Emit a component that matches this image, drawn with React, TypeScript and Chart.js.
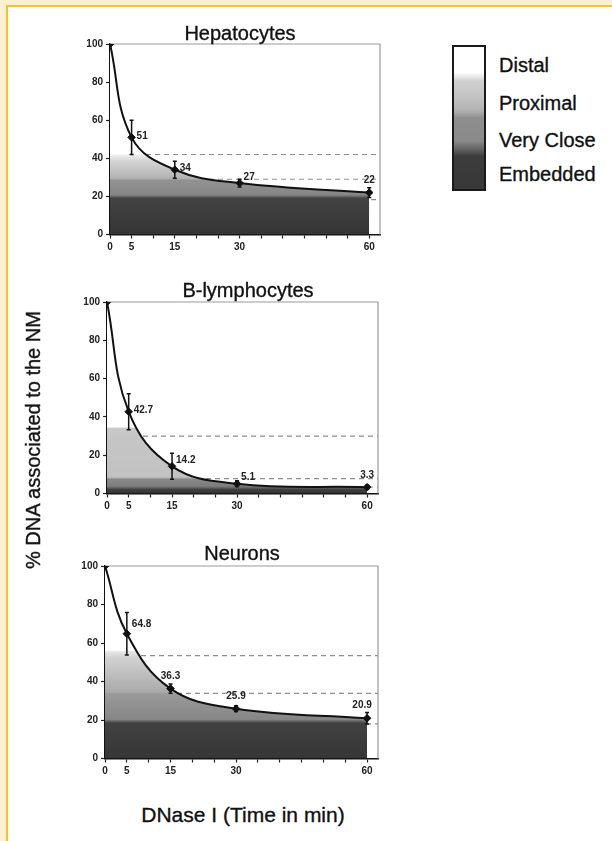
import React, { useEffect, useRef } from "react";
import { Chart, registerables } from "chart.js";

Chart.register(...registerables);

// ---------------- data ----------------
const TIMES = [0, 5, 15, 30, 60];
const X_TICK_LABELS = [0, 5, 15, 30, 60];
const X_MINOR_TICKS = [0, 5, 10, 15, 20, 25, 30, 35, 40, 45, 50, 55, 60];
const Y_MAX = 100;
const X_MAX = 62.5;

const HEP_VALUES = [100, 51, 34, 27, 22];
const HEP_ERRORS = [0, 9, 4.5, 2, 2.6];
const HEP_ZONES = [20, 29, 41.5]; // upper bounds: embedded, very close, proximal
const HEP_DASHED = [42, 29, 18.3];

const BLY_VALUES = [100, 42.7, 14.2, 5.1, 3.3];
const BLY_ERRORS = [0, 9.4, 6.8, 1.5, 1];
const BLY_ZONES = [3, 8, 34];
const BLY_DASHED = [30, 7.8, 3.4];

const NEU_VALUES = [100, 64.8, 36.3, 25.9, 20.9];
const NEU_ERRORS = [0, 11, 2.4, 1.5, 3];
const NEU_ZONES = [19.5, 34, 55.5];
const NEU_DASHED = [53.4, 33.8, 18];

const LEGEND_LABELS = ["Distal", "Proximal", "Very Close", "Embedded"];
const Y_TITLE = "% DNA associated to the NM";
const X_TITLE = "DNase I (Time in min)";

// ---------------- styles / layout ----------------
const FONT = "'Liberation Sans', Arial, Helvetica, sans-serif";
const STROKE = "0.35px #111";

type Area = { left: number; right: number; top: number; bottom: number };
interface PanelCfg {
  title: string;
  titleX: number;
  titleTop: number;
  area: Area;
  values: number[];
  errors: number[];
  zones: number[];
  dashed: number[];
  placement: string[];
  colors: string[];
}

const PANELS: PanelCfg[] = [
  {
    title: "Hepatocytes",
    titleX: 240,
    titleTop: 23,
    area: { left: 110, right: 380, top: 43.5, bottom: 234 },
    values: HEP_VALUES,
    errors: HEP_ERRORS,
    zones: HEP_ZONES,
    dashed: HEP_DASHED,
    placement: ["", "r", "r", "ur", "a"],
    colors: ["#353535", "#424242", "#868686", "#929292", "#b3b3b3", "#d4d4d4", "#ececec"],
  },
  {
    title: "B-lymphocytes",
    titleX: 248,
    titleTop: 280,
    area: { left: 107, right: 378, top: 302, bottom: 493.5 },
    values: BLY_VALUES,
    errors: BLY_ERRORS,
    zones: BLY_ZONES,
    dashed: BLY_DASHED,
    placement: ["", "r", "ur", "ur", "a"],
    colors: ["#353535", "#3d3d3d", "#7e7e7e", "#888888", "#c2c2c2", "#c6c6c6", "#cacaca"],
  },
  {
    title: "Neurons",
    titleX: 242,
    titleTop: 543,
    area: { left: 105, right: 378, top: 566, bottom: 758.5 },
    values: NEU_VALUES,
    errors: NEU_ERRORS,
    zones: NEU_ZONES,
    dashed: NEU_DASHED,
    placement: ["", "ur2", "a", "a", "al"],
    colors: ["#363636", "#424242", "#868686", "#9a9a9a", "#aaaaaa", "#d2d2d2", "#e6e6e6"],
  },
];

const PAD_T = 20;
const PAD_B = 30;
const PAD_R = 20;
const Y_AXIS_W = 40;
const X_AXIS_H = 24;

function zoneGradient(chart: any, zones: number[], colors: string[]) {
  const { ctx, chartArea, scales } = chart;
  if (!chartArea || !scales || !scales.y) return colors[0];
  const y0 = scales.y.getPixelForValue(0);
  const y1 = scales.y.getPixelForValue(Y_MAX);
  const g = ctx.createLinearGradient(0, y0, 0, y1);
  const [e, v, p] = zones;
  const stops: [number, string][] = [
    [0, colors[0]],
    [e - 1, colors[1]],
    [e + 0.8, colors[2]],
    [v - 0.6, colors[3]],
    [v + 0.6, colors[4]],
    [p - 3, colors[5]],
    [p, colors[6]],
    [p + 0.8, "#ffffff"],
    [Y_MAX, "#ffffff"],
  ];
  stops.forEach(([val, c]) => g.addColorStop(Math.min(1, Math.max(0, val / Y_MAX)), c));
  return g;
}

function Panel({ cfg }: { cfg: PanelCfg }) {
  const ref = useRef<HTMLCanvasElement>(null);
  const a = cfg.area;
  const W = Math.ceil(a.right + PAD_R);
  const canvasTop = a.top - PAD_T;
  const H = Math.ceil(a.bottom - a.top + PAD_T + PAD_B);

  useEffect(() => {
    const framePlugin = {
      id: "frame",
      beforeDatasetsDraw(chart: any) {
        const { ctx, chartArea } = chart;
        ctx.save();
        ctx.strokeStyle = "#9a9a9a";
        ctx.lineWidth = 1.2;
        ctx.beginPath();
        ctx.moveTo(chartArea.left, chartArea.top);
        ctx.lineTo(chartArea.right, chartArea.top);
        ctx.lineTo(chartArea.right, chartArea.bottom);
        ctx.stroke();
        ctx.restore();
      },
    };
    const errPlugin = {
      id: "errs",
      afterDatasetsDraw(chart: any) {
        const { ctx } = chart;
        const xs = chart.scales.x;
        const ys = chart.scales.y;
        ctx.save();
        ctx.strokeStyle = "#111";
        ctx.lineWidth = 1.5;
        TIMES.forEach((t, i) => {
          const err = cfg.errors[i];
          if (!err) return;
          const px = xs.getPixelForValue(t);
          const pt = ys.getPixelForValue(cfg.values[i] + err);
          const pb = ys.getPixelForValue(cfg.values[i] - err);
          ctx.beginPath();
          ctx.moveTo(px, pt);
          ctx.lineTo(px, pb);
          ctx.moveTo(px - 2, pt);
          ctx.lineTo(px + 2, pt);
          ctx.moveTo(px - 2, pb);
          ctx.lineTo(px + 2, pb);
          ctx.stroke();
        });
        ctx.font = `bold 10px ${FONT}`;
        ctx.fillStyle = "#222";
        ctx.textBaseline = "middle";
        TIMES.forEach((t, i) => {
          const pl = cfg.placement[i];
          if (!pl) return;
          const px = xs.getPixelForValue(t);
          const py = ys.getPixelForValue(cfg.values[i]);
          const txt = String(cfg.values[i]);
          if (pl === "r") {
            ctx.textAlign = "left";
            ctx.fillText(txt, px + 5, py - 1);
          } else if (pl === "ur") {
            ctx.textAlign = "left";
            ctx.fillText(txt, px + 4, py - 6);
          } else if (pl === "ur2") {
            ctx.textAlign = "left";
            ctx.fillText(txt, px + 5, py - 10);
          } else if (pl === "a") {
            ctx.textAlign = "center";
            ctx.fillText(txt, px, py - 12);
          } else if (pl === "al") {
            ctx.textAlign = "center";
            ctx.fillText(txt, px - 5, py - 13);
          }
        });
        ctx.restore();
      },
    };

    const chart = new Chart(ref.current as HTMLCanvasElement, {
      type: "line",
      data: {
        datasets: [
          {
            data: TIMES.map((t, i) => ({ x: t, y: cfg.values[i] })),
            borderColor: "#111",
            borderWidth: 2,
            tension: 0.4,
            fill: "origin",
            backgroundColor: (ctx: any) => zoneGradient(ctx.chart, cfg.zones, cfg.colors),
            pointStyle: "rectRot",
            pointRadius: 3.8,
            pointBackgroundColor: "#111",
            pointBorderColor: "#111",
            pointBorderWidth: 1,
            order: 0,
          } as any,
          ...cfg.dashed.map((v) => ({
            data: [
              { x: 0, y: v },
              { x: X_MAX, y: v },
            ],
            borderColor: "#8e8e8e",
            borderWidth: 1.2,
            borderDash: [5, 4],
            pointRadius: 0,
            fill: false,
            order: 1,
          })),
        ],
      },
      options: {
        animation: false,
        responsive: false,
        devicePixelRatio: 1,
        events: [],
        layout: {
          padding: {
            left: a.left - Y_AXIS_W,
            top: PAD_T,
            right: W - a.right,
            bottom: H - PAD_T - (a.bottom - a.top) - X_AXIS_H,
          },
        },
        plugins: {
          legend: { display: false },
          title: { display: false },
          tooltip: { enabled: false },
        },
        scales: {
          x: {
            type: "linear",
            min: 0,
            max: X_MAX,
            afterBuildTicks(scale: any) {
              scale.ticks = X_MINOR_TICKS.map((v) => ({ value: v }));
            },
            afterFit(scale: any) {
              scale.height = X_AXIS_H;
            },
            ticks: {
              autoSkip: false,
              maxRotation: 0,
              padding: 3,
              color: "#222",
              font: { family: FONT, size: 10, weight: "bold" },
              callback: (val: any) => (X_TICK_LABELS.includes(Number(val)) ? String(val) : ""),
            },
            grid: {
              drawOnChartArea: false,
              drawTicks: true,
              tickLength: 4,
              tickColor: "#222",
              tickWidth: 1.2,
            },
            border: { display: true, color: "#111", width: 1.5 },
          },
          y: {
            type: "linear",
            min: 0,
            max: Y_MAX,
            afterFit(scale: any) {
              scale.width = Y_AXIS_W;
            },
            ticks: {
              stepSize: 20,
              padding: 3,
              color: "#222",
              font: { family: FONT, size: 10, weight: "bold" },
            },
            grid: {
              drawOnChartArea: false,
              drawTicks: true,
              tickLength: 4,
              tickColor: "#222",
              tickWidth: 1.2,
            },
            border: { display: true, color: "#111", width: 1.5 },
          },
        },
      } as any,
      plugins: [framePlugin, errPlugin],
    });
    return () => chart.destroy();
  }, []);

  return (
    <>
      <canvas
        ref={ref}
        width={W}
        height={H}
        style={{ position: "absolute", left: 0, top: canvasTop, width: W, height: H }}
      />
      <div
        style={{
          position: "absolute",
          left: cfg.titleX,
          top: cfg.titleTop,
          transform: "translateX(-50%)",
          font: `20px/20px ${FONT}`,
          color: "#111",
          WebkitTextStroke: STROKE,
          whiteSpace: "nowrap",
        }}
      >
        {cfg.title}
      </div>
    </>
  );
}

const LEGEND_TOPS = [55, 93, 130, 164];

export default function App() {
  return (
    <div
      style={{
        position: "absolute",
        left: 0,
        top: 0,
        width: 612,
        height: 841,
        background: "#ffffff",
        overflow: "hidden",
        fontFamily: FONT,
      }}
    >
      {/* page frame strips */}
      <div style={{ position: "absolute", left: 0, top: 0, width: 6, height: 841, background: "#fdf0d3" }} />
      <div style={{ position: "absolute", left: 0, top: 0, width: 612, height: 5, background: "#fdf0d3" }} />
      <div style={{ position: "absolute", left: 6, top: 5, width: 2, height: 836, background: "#f5c12f" }} />
      <div style={{ position: "absolute", left: 6, top: 5, width: 606, height: 2, background: "#f5c12f" }} />

      {PANELS.map((p) => (
        <Panel key={p.title} cfg={p} />
      ))}

      {/* legend */}
      <div
        style={{
          position: "absolute",
          left: 452,
          top: 45,
          width: 30,
          height: 142,
          border: "2px solid #1a1a1a",
          background:
            "linear-gradient(to bottom, #ffffff 0%, #ffffff 18%, #d0d0d0 24%, #c2c2c2 36%, #b0b0b0 45%, #8e8e8e 50%, #8a8a8a 66%, #6a6a6a 71%, #3c3c3c 77%, #383838 100%)",
        }}
      />
      {LEGEND_LABELS.map((l, i) => (
        <div
          key={l}
          style={{
            position: "absolute",
            left: 499,
            top: LEGEND_TOPS[i],
            font: `20px/20px ${FONT}`,
            color: "#111",
            WebkitTextStroke: STROKE,
            whiteSpace: "nowrap",
          }}
        >
          {l}
        </div>
      ))}

      {/* axis titles */}
      <div
        style={{
          position: "absolute",
          left: 33,
          top: 440,
          transform: "translate(-50%, -50%) rotate(-90deg)",
          font: `20px/20px ${FONT}`,
          color: "#111",
          WebkitTextStroke: STROKE,
          whiteSpace: "nowrap",
        }}
      >
        {Y_TITLE}
      </div>
      <div
        style={{
          position: "absolute",
          left: 243,
          top: 804,
          transform: "translateX(-50%)",
          font: `21px/21px ${FONT}`,
          color: "#111",
          WebkitTextStroke: STROKE,
          whiteSpace: "nowrap",
        }}
      >
        {X_TITLE}
      </div>
    </div>
  );
}
